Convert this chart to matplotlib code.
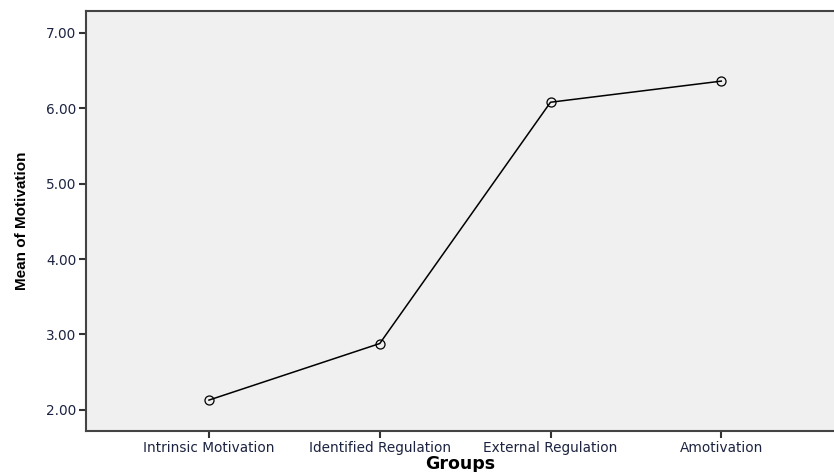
import matplotlib
matplotlib.use('Agg')
import matplotlib.pyplot as plt

groups = ['Intrinsic Motivation', 'Identified Regulation', 'External Regulation', 'Amotivation']
means = [2.13, 2.88, 6.08, 6.36]
yticks = [2.0, 3.0, 4.0, 5.0, 6.0, 7.0]

fig = plt.figure(figsize=(8.34, 4.72), dpi=100)
ax = fig.add_axes([86 / 834, 41 / 472, 1 - 86 / 834, 420 / 472])
ax.set_facecolor('#f0f0f0')

x = list(range(len(groups)))
ax.plot(x, means, color='black', linewidth=1.1, marker='o', markersize=6.5,
        markerfacecolor='none', markeredgecolor='black', markeredgewidth=0.9)

ax.set_xlim(-0.72, 3.66)
ax.set_ylim(1.72, 7.29)
ax.set_xticks(x)
ax.set_xticklabels(groups, fontsize=9.8, color='#1c2340')
ax.set_yticks(yticks)
ax.set_yticklabels(['%.2f' % v for v in yticks], fontsize=9.8, color='#1c2340')
ax.tick_params(direction='out', length=5, width=1.5, color='#333333', pad=2)

for side in ['left', 'top', 'bottom']:
    ax.spines[side].set_color('#444444')
    ax.spines[side].set_linewidth(1.5)
ax.spines['right'].set_visible(False)

ax.set_xlabel('Groups', fontsize=12.5, fontweight='bold', labelpad=0)
ax.set_ylabel('Mean of Motivation', fontsize=11, fontweight='bold',
              fontfamily='Liberation Sans', labelpad=12)

fig.savefig('out.png', dpi=100)
